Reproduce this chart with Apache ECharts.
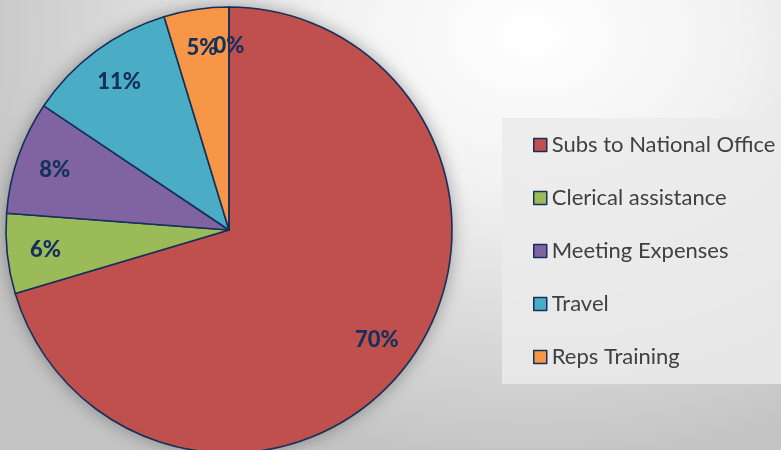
<!DOCTYPE html>
<html>
<head>
<meta charset="utf-8">
<script src="https://cdn.jsdelivr.net/npm/echarts@6/dist/echarts.min.js"></script>
<style>
  html, body { margin: 0; padding: 0; }
  body {
    width: 781px; height: 450px; overflow: hidden;
    background: radial-gradient(ellipse 75% 95% at 68% 8%, #ffffff 0%, #f2f2f2 35%, #d6d6d6 75%, #c4c4c4 100%);
  }
  #chart { width: 781px; height: 450px; }
</style>
</head>
<body>
<div id="chart"></div>
<script>
// categories and share of spend (%)
var categories = ['Subs to National Office', 'Clerical assistance', 'Meeting Expenses', 'Travel', 'Reps Training', ''];
var values = [70.4, 5.8, 8.2, 10.9, 4.7, 0];
var colors = ['#C0504D', '#9BBB59', '#8064A2', '#4BACC6', '#F79646', '#4F81BD'];

var navy = '#15305A';
var pieCenter = [229, 230];
var pieRadius = 223;

var pieData = [];
for (var i = 0; i < categories.length; i++) {
    pieData.push({ name: categories[i], value: values[i], itemStyle: { color: colors[i] } });
}

var myChart = echarts.init(document.getElementById('chart'));

var option = {
    backgroundColor: 'rgba(0,0,0,0)',
    animation: false,
    legend: {
        data: categories.slice(0, 5),
        orient: 'vertical',
        left: 502,
        top: 118,
        padding: [16, 40, 16, 31],
        backgroundColor: 'rgba(235,235,235,0.85)',
        itemWidth: 13,
        itemHeight: 13,
        itemGap: 31,
        icon: 'rect',
        itemStyle: { borderColor: navy, borderWidth: 1.5 },
        textStyle: { fontFamily: 'Lato', fontSize: 22, color: '#404040', lineHeight: 22, padding: [0, 0, 0, 0] }
    },
    series: [
        {
            // soft shadow under the pie
            type: 'pie',
            silent: true,
            center: pieCenter,
            radius: pieRadius,
            label: { show: false },
            legendHoverLink: false,
            data: [{ value: 1, name: 'shadow', itemStyle: { color: '#888', shadowBlur: 18, shadowColor: 'rgba(0,0,0,0.35)' } }],
            z: 1
        },
        {
            type: 'pie',
            center: pieCenter,
            radius: pieRadius,
            startAngle: 90,
            clockwise: true,
            label: { show: false },
            itemStyle: { borderColor: navy, borderWidth: 1.6 },
            data: pieData,
            z: 2
        },
        {
            // transparent ring only carrying the percent labels
            type: 'pie',
            silent: true,
            center: pieCenter,
            radius: [140, pieRadius],
            startAngle: 90,
            clockwise: true,
            minShowLabelAngle: 0,
            legendHoverLink: false,
            itemStyle: { color: 'rgba(0,0,0,0)', borderWidth: 0 },
            label: {
                show: true,
                position: 'inside',
                fontFamily: 'Lato',
                fontWeight: 900,
                fontSize: 22,
                color: navy,
                formatter: function (p) { return Math.round(p.percent) + '%'; }
            },
            labelLayout: { hideOverlap: false },
            data: pieData.map(function (d) { return { name: d.name + ' ', value: d.value }; }),
            z: 3
        }
    ]
};

myChart.setOption(option);
</script>
</body>
</html>
